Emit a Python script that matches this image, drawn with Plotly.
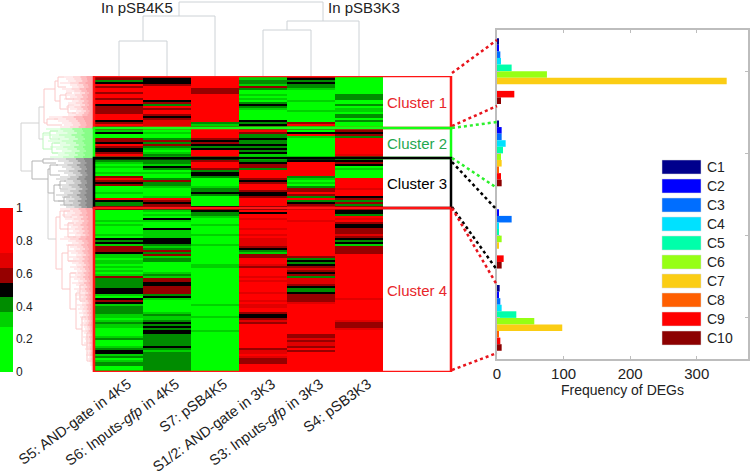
import plotly.graph_objects as go

W, H = 750, 473

SAMPLES = ["S5: AND-gate in 4K5", "S6: Inputs-<i>gfp</i> in 4K5", "S7: pSB4K5",
           "S1/2: AND-gate in 3K3", "S3: Inputs-<i>gfp</i> in 3K3", "S4: pSB3K3"]
CLUSTERS = ["Cluster 1", "Cluster 2", "Cluster 3", "Cluster 4"]
CLUSTER_FIRST_ROW = [0, 26, 41, 66, 148]
CLUSTER_COLORS = ["#ff1414", "#14ff14", "#000000", "#ff1414"]
CLUSTER_TEXT = ["#e8262a", "#1fa84f", "#000000", "#e8262a"]

# heatmap rows, one char per row, level 0-a (a = 1.0)
S5 = ("6645a6aa6aa6aa56666aaa56a6" "43500665a6556aa" "5430300306a656000300a5446"
      "60000" "03030" "00030" "54536" "66533" "03303" "03036" "44444" "5"
      "55305" "65344" "44330" "34330" "00034" "00034" "55340" "34400" "3")
S6 = ("65556aaaaaaa564a6aa6567777" "303004646430343" "5443540300464430000" "3a6566"
      "43030" "53000" "53333" "55543" "46463" "44000" "00343" "66556" "6"
      "66453" "00000" "03433" "45454" "55444" "44454" "34444" "44444" "4")
S7 = ("aaaaaa666aaaaaaaaaaaaaa434" "aaaaa656545aaa7" "56aaa" "64554" "0000" "34454" "00000" "5"
      "65443" "00030" "00030" "00030" "00000" "00033" "00000" "00000" "0"
      "00000" "00300" "00030" "00000" "30000" "00000" "00000" "00000" "0")
S12 = ("33443640030304543000005454" "6a6445445454530" "34566" "4aaaa" "656aa" "a6556" "aaaa6"
       "6a5aa" "7aaaa" "7aa7a" "77776" "54366" "aaa76" "aaaa7" "a7aaa" "a"
       "a7aaa" "7a77a" "a6556" "76aaa" "aaaaa" "aaaa6" "77a76" "66aaa" "a")
S3 = ("6545443" "00000" "3" "0000" "3" "00000" "6a3" "405a30000000000" "55aaa" "aaaa4" "30304" "66a64" "a456a"
      "aaaaa" "a7aaa" "aaaaa" "aaaaa" "aaaa6" "45456" "76564" "77765" "4"
      "45666" "67aaa" "aaaaa" "aaaaa" "aa667" "6776a" "6aaaa" "aaaaa" "a")
S4 = ("000000000" "444" "00" "4" "0" "33" "0" "44" "0" "4" "000" "66564aaaaaaaa76" "45650" "30000" "aaaaa" "7aaa5" "64646"
      "6554a" "7a655" "66676" "54536" "666aa" "aaaaa" "aaaaa" "aaaaa" "a"
      "aaaa7" "aaaaa" "aaaaa" "76667" "aaaaa" "aaaaa" "aaaaa" "aaaaa" "a")
COLUMNS = [S5, S6, S7, S12, S3, S4]

LEVEL_COLORS = ["#00ff00", "#00ff00", "#00ff00", "#00d200", "#008c00", "#000000",
                "#960000", "#e10000", "#ff0000", "#ff0000", "#ff0000"]

# top dendrogram: (left x, left height, right x, right height, height)
TOP_LINKS = [(0, 0, 1, 0, 35), (0.5, 35, 2, 0, 60), (3, 0, 4, 0, 46),
             (3.5, 46, 5, 0, 55), (1.25, 60, 4.25, 55, 74)]

# left dendrogram: (distance, top row, top child, bottom row, bottom child, colour group)
LEFT_LINKS = [
    (73, 23, 55, 47, 62, 4), (55, 15, 50, 31, 51, 4), (50, 6, 39, 23, 47, 0),
    (39, 2, 36, 12, 34, 0), (36, 0, 30, 5, 28, 0), (34, 9, 28, 16, 26, 0),
    (28, 8, 22, 11, 20, 0), (26, 14, 20, 18, 18, 0), (47, 21, 36, 24, 32, 0),
    (51, 28, 44, 36, 42, 1), (44, 27, 36, 31, 34, 1), (42, 33, 34, 38, 36, 1),
    (62, 42, 51, 51, 46, 2), (51, 41, 40, 43, 38, 2), (46, 46, 44, 58, 40, 2),
    (44, 44, 36, 49, 34, 2), (40, 54, 34, 62, 30, 2), (34, 52, 28, 56, 26, 2),
    (30, 60, 24, 64, 22, 2), (46, 58, 46, 81, 38, 4),
    (38, 70, 34, 96, 32, 3), (34, 67, 30, 76, 26, 3), (30, 67, 24, 70, 22, 3),
    (26, 73, 20, 80, 18, 3), (32, 88, 26, 106, 24, 3), (26, 84, 20, 92, 18, 3),
    (24, 98, 18, 116, 18, 3), (18, 108, 14, 126, 12, 3), (14, 104, 10, 112, 9, 3),
    (12, 120, 8, 134, 7, 3), (7, 128, 5, 142, 3, 3),
]
LINK_COLORS = ["#fbc8c8", "#baf7ba", "#b4b4b4", "#fbc8c8", "#d2d2d2"]

# how far each row's leaf reaches from the heatmap edge
LEAF_DEPTH = [
    30, 28, 26, 34, 24, 22, 32, 28, 20, 27, 24, 30, 22, 26, 20, 28, 24, 18, 22, 26, 45, 40, 36, 32, 30, 34,
    48, 44, 38, 50, 42, 36, 46, 40, 34, 44, 38, 32, 42, 36, 44,
    40, 36, 30, 38, 32, 28, 36, 30, 26, 34, 38, 30, 28, 36, 32, 26, 34, 30, 38, 32, 28, 36, 30, 34, 28,
    34, 30, 27, 32, 24, 29, 22, 26, 30, 23, 27, 21, 25, 19, 30, 34, 26, 22, 28, 24, 20, 26, 23, 18, 25, 21,
    26, 22, 18, 24, 20, 17, 23, 19, 24, 20, 16, 22, 18, 15, 20, 17, 13, 19, 15, 18, 14, 12, 17, 14,
    16, 12, 15, 11, 14, 13, 10, 12, 14, 10, 9, 12, 10, 8, 11, 9, 8, 10, 7, 8, 9, 6, 7, 8, 5, 6, 5, 4, 4, 3, 3, 2,
]
LEAF_COLORS = ["rgba(252,120,125,0.30)", "rgba(60,250,60,0.28)", "rgba(95,95,95,0.38)", "rgba(252,120,125,0.30)"]
# leaves fade towards their tips: share of the reach and line width of each layer
LEAF_LAYERS = [(1.0, 1), (0.7, 1), (0.45, 2), (0.25, 2)]

BAR_SERIES = ["C1", "C2", "C3", "C4", "C5", "C6", "C7", "C8", "C9", "C10"]
BAR_COLORS = ["#00008c", "#0000ff", "#006eff", "#00e1ff", "#00ffaa",
              "#96ff14", "#fbcd14", "#ff5f00", "#ff0000", "#8c0000"]
FREQ_C1 = [2, 3, 5, 6, 22, 75, 345, 0, 26, 6]
FREQ_C2 = [3, 7, 7, 13, 9, 6, 7, 3, 6, 7]
FREQ_C3 = [0, 3, 22, 3, 3, 7, 3, 0, 10, 7]
FREQ_C4 = [4, 3, 5, 7, 29, 56, 98, 3, 5, 7]
FREQ = [FREQ_C1, FREQ_C2, FREQ_C3, FREQ_C4]

# dotted connectors from the cluster boxes to the bar groups, in picture pixels
CONNECTORS = [(73, 40, 0), (126, 106, 0), (128, 122, 1), (158, 188, 1),
              (162, 210, 2), (207, 270, 2), (208, 285, 0), (370, 353, 0)]
CONNECTOR_COLORS = ["#e8141c", "#2cf02c", "#000000"]


def px(x):
    return x / W


def py(y):
    return 1 - y / H


ROWS = 148
assert all(len(c) == ROWS for c in COLUMNS), [len(c) for c in COLUMNS]
assert len(LEAF_DEPTH) == ROWS, len(LEAF_DEPTH)
fig = go.Figure()

# heatmap
z = [[int(col[r], 16) / 10 for col in COLUMNS] for r in range(ROWS)]
scale = []
for i, c in enumerate(LEVEL_COLORS):
    scale.append([i / 11, c])
    scale.append([(i + 1) / 11, c])
fig.add_trace(go.Heatmap(
    z=z, x=list(range(6)), y=list(range(ROWS)), zmin=0, zmax=1, colorscale=scale,
    hoverinfo="skip",
    colorbar=dict(x=0, xanchor="left", xpad=0, y=py(372), yanchor="bottom", ypad=0,
                  thicknessmode="pixels", thickness=13, lenmode="pixels", len=164,
                  tickvals=[0, 0.2, 0.4, 0.6, 0.8, 1], ticks="", outlinewidth=0,
                  tickfont=dict(size=12, color="#222222"), ticklabelposition="outside"),
))

# top dendrogram
xs, ys = [], []
for x0, h0, x1, h1, h in TOP_LINKS:
    xs += [x0, x0, x1, x1, None]
    ys += [h0, h, h, h1, None]
fig.add_trace(go.Scatter(x=xs, y=ys, mode="lines", line=dict(color="#cdd2d6", width=1),
                         xaxis="x2", yaxis="y2", hoverinfo="skip", showlegend=False))

# left dendrogram leaves
for k in range(4):
    rows = range(CLUSTER_FIRST_ROW[k], CLUSTER_FIRST_ROW[k + 1])
    for share, width in LEAF_LAYERS:
        xs, ys = [], []
        for r in rows:
            xs += [LEAF_DEPTH[r] * share, 0, None]
            ys += [r, r, None]
        fig.add_trace(go.Scatter(x=xs, y=ys, mode="lines", line=dict(color=LEAF_COLORS[k], width=width),
                                 xaxis="x3", yaxis="y3", hoverinfo="skip", showlegend=False))

# left dendrogram branches
for g, c in enumerate(LINK_COLORS):
    xs, ys = [], []
    for d, r0, d0, r1, d1, group in LEFT_LINKS:
        if group == g:
            xs += [d0, d, d, d1, None]
            ys += [r0, r0, r1, r1, None]
    fig.add_trace(go.Scatter(x=xs, y=ys, mode="lines", line=dict(color=c, width=1),
                             xaxis="x3", yaxis="y3", hoverinfo="skip", showlegend=False))

# bars
for i, name in enumerate(BAR_SERIES):
    fig.add_trace(go.Bar(
        x=[f[i] for f in FREQ], y=CLUSTERS, name=name, orientation="h",
        marker=dict(color=BAR_COLORS[i], line=dict(width=0)),
        xaxis="x4", yaxis="y4", showlegend=False,
    ))

shapes = []
annotations = []

for k, name in enumerate(CLUSTERS):
    shapes.append(dict(type="rect", xref="paper", yref="y", layer="above",
                       x0=px(94), x1=px(451), y0=CLUSTER_FIRST_ROW[k] - 0.5, y1=CLUSTER_FIRST_ROW[k + 1] - 0.5,
                       line=dict(color=CLUSTER_COLORS[k], width=2.5)))
    annotations.append(dict(xref="paper", yref="y", x=px(417), xanchor="center", yanchor="middle",
                            y=(CLUSTER_FIRST_ROW[k] + CLUSTER_FIRST_ROW[k + 1] - 1) / 2,
                            text=name, showarrow=False, font=dict(size=15, color=CLUSTER_TEXT[k])))

for y0, y1, c in CONNECTORS:
    shapes.append(dict(type="line", xref="paper", yref="paper", layer="above",
                       x0=px(452), y0=py(y0), x1=px(497), y1=py(y1),
                       line=dict(color=CONNECTOR_COLORS[c], width=2.5, dash="dot")))

# legend boxes
for i, name in enumerate(BAR_SERIES):
    yc = 167 + 19 * i
    shapes.append(dict(type="rect", xref="paper", yref="paper", layer="above",
                       x0=px(662), x1=px(701), y0=py(yc - 7), y1=py(yc + 7),
                       fillcolor=BAR_COLORS[i], line=dict(color="#d8d8d8", width=0.5)))
    annotations.append(dict(xref="paper", yref="paper", x=px(705), y=py(yc), xanchor="left", yanchor="middle",
                            text=name, showarrow=False, font=dict(size=14, color="#222222")))

annotations.append(dict(xref="paper", yref="paper", x=px(137), y=py(8), xanchor="center", yanchor="middle",
                        text="In pSB4K5", showarrow=False, font=dict(size=15, color="#222222")))
annotations.append(dict(xref="paper", yref="paper", x=px(364), y=py(8), xanchor="center", yanchor="middle",
                        text="In pSB3K3", showarrow=False, font=dict(size=15, color="#222222")))

fig.update_layout(
    width=W, height=H, margin=dict(l=0, r=0, t=0, b=0, autoexpand=False),
    paper_bgcolor="white", plot_bgcolor="white",
    font=dict(family="Liberation Sans, Arial, sans-serif", color="#222222"),
    bargap=0.2, bargroupgap=0, barmode="group",
    shapes=shapes, annotations=annotations,
    xaxis=dict(domain=[px(95), px(383)], range=[-0.5, 5.5], tickvals=list(range(6)), ticktext=SAMPLES,
               tickangle=-36, ticks="", showgrid=False, zeroline=False, tickfont=dict(size=14.6),
               ticklabelshift=9, anchor="y"),
    yaxis=dict(domain=[py(372), py(76)], range=[147.5, -0.5], visible=False, anchor="x"),
    xaxis2=dict(domain=[px(95), px(383)], range=[-0.5, 5.5], visible=False, anchor="y2"),
    yaxis2=dict(domain=[py(76), 1], range=[0, 76], visible=False, anchor="x2"),
    xaxis3=dict(domain=[0, px(94)], range=[94, 0], visible=False, anchor="y3"),
    yaxis3=dict(domain=[py(372), py(76)], range=[147.5, -0.5], visible=False, anchor="x3"),
    xaxis4=dict(domain=[px(497), px(748)], range=[0, 377], tickvals=[0, 100, 200, 300],
                ticks="inside", ticklen=3, tickcolor="#bdbdbd", showline=True, linecolor="#bdbdbd", linewidth=1.5,
                mirror="ticks", showgrid=False, zeroline=False, tickfont=dict(size=15),
                title=dict(text="Frequency of DEGs", font=dict(size=14), standoff=4), anchor="y4"),
    yaxis4=dict(domain=[py(359), py(30)], autorange="reversed", categoryorder="array", categoryarray=CLUSTERS,
                ticks="inside", ticklen=3, tickcolor="#bdbdbd", showline=True, linecolor="#bdbdbd", linewidth=1.5,
                mirror="ticks", showgrid=False, showticklabels=False, anchor="x4"),
)

# the page's default margin would push the figure 8px in
fig.write_html("out.html", config={"displayModeBar": False},
               post_script="document.body.style.margin = '0';")
